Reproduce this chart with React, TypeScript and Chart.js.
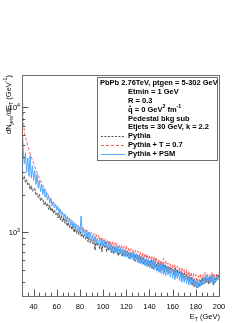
import React, { useEffect, useRef } from "react";
import { Chart, registerables } from "chart.js";

Chart.register(...registerables);

// ---- data (1 GeV bins, E_T = 30 ... 200 GeV) ----
const E_START = 30;
const pythia = [
  2950, 2650, 2780, 2500, 2620, 2380, 2450, 2200, 2350, 2120,
  2180, 2250, 1980, 2050, 1900, 2000, 1780, 1870, 1820, 1660,
  1750, 1620, 1700, 1520, 1640, 1480, 1560, 1420, 1510, 1380,
  1440, 1300, 1420, 1260, 1350, 1210, 1310, 1180, 1260, 1120,
  1200, 1090, 1180, 1050, 1140, 1000, 1110, 980, 1060, 960,
  1040, 930, 1010, 900, 980, 880, 950, 840, 930, 820,
  900, 810, 870, 720, 860, 780, 840, 740, 820, 700,
  810, 760, 830, 700, 790, 720, 780, 690, 770, 670,
  760, 690, 740, 650, 730, 680, 720, 640, 700, 650,
  710, 640, 690, 620, 680, 630, 670, 590, 660, 610,
  650, 580, 640, 570, 630, 560, 610, 550, 600, 540,
  590, 530, 600, 510, 580, 520, 560, 500, 570, 490,
  560, 500, 550, 480, 540, 490, 530, 470, 520, 480,
  510, 460, 520, 450, 500, 460, 490, 440, 480, 430,
  470, 420, 460, 410, 450, 400, 440, 380, 420, 370,
  410, 360, 400, 370, 420, 380, 430, 390, 440, 400,
  430, 390, 440, 400, 450, 380, 430, 400, 460, 420,
  470,
];
const pythiaT07 = [
  15500, 8200, 6400, 5700, 5300, 4900, 4600, 4250, 4000, 3750,
  3550, 3350, 3150, 3000, 2850, 2700, 2580, 2470, 2350, 2260,
  2180, 2100, 2020, 1960, 1890, 1830, 1780, 1730, 1680, 1640,
  1600, 1540, 1550, 1470, 1480, 1400, 1420, 1350, 1360, 1300,
  1310, 1240, 1270, 1190, 1230, 1160, 1200, 1120, 1150, 1090,
  1120, 1050, 1100, 1010, 1070, 990, 1040, 960, 1020, 940,
  1000, 920, 980, 890, 960, 870, 940, 860, 920, 840,
  900, 820, 890, 800, 870, 790, 860, 770, 840, 760,
  830, 740, 820, 730, 800, 720, 790, 700, 770, 690,
  780, 680, 760, 670, 740, 660, 730, 640, 720, 630,
  710, 620, 700, 610, 690, 600, 680, 590, 670, 580,
  660, 570, 650, 560, 640, 550, 620, 540, 610, 530,
  600, 520, 620, 510, 590, 500, 570, 490, 560, 480,
  560, 470, 550, 480, 540, 460, 530, 450, 520, 440,
  510, 440, 500, 430, 490, 420, 480, 410, 470, 420,
  460, 400, 450, 410, 470, 400, 460, 420, 480, 410,
  470, 400, 460, 420, 480, 410, 470, 420, 460, 430,
  480,
];
const pythiaPSM = [
  8500, 4600, 3500, 4300, 3000, 3900, 2800, 4100, 2700, 3400,
  2600, 3100, 2400, 2900, 2250, 2600, 2100, 2400, 2000, 2250,
  1900, 2100, 1800, 1950, 1700, 1850, 1620, 1750, 1560, 1680,
  1500, 1600, 1430, 1520, 1360, 1450, 1300, 1400, 1250, 1340,
  1200, 1290, 1150, 1240, 1100, 1190, 1060, 1150, 1020, 1110,
  1000, 1350, 990, 1080, 940, 1040, 910, 1010, 880, 980,
  860, 950, 840, 930, 820, 900, 800, 890, 780, 870,
  770, 860, 750, 840, 740, 820, 720, 810, 700, 790,
  690, 780, 680, 770, 660, 750, 650, 740, 640, 720,
  630, 710, 620, 700, 610, 690, 600, 680, 580, 670,
  570, 660, 560, 650, 550, 640, 540, 620, 530, 610,
  520, 600, 510, 590, 500, 620, 490, 580, 480, 570,
  470, 560, 460, 550, 450, 540, 460, 530, 440, 520,
  430, 510, 420, 500, 430, 490, 410, 480, 400, 470,
  400, 460, 390, 450, 380, 440, 380, 430, 370, 420,
  370, 410, 360, 420, 370, 430, 380, 440, 390, 450,
  400, 440, 390, 450, 400, 460, 390, 440, 410, 450,
  430,
];

const X_MIN = 30;
const X_MAX = 200;
const Y_MIN = 311;
const Y_MAX = 17900;
const xMajorTicks = [40, 60, 80, 100, 120, 140, 160, 180, 200];
const xMinorStep = 5;
const yDecades = [1000, 10000];
const yDecadeLabels = [["10", "3"], ["10", "4"]];

const legendHeader = [
  "PbPb 2.76TeV, ptgen = 5-302 GeV",
  "Etmin = 1 GeV",
  "R = 0.3",
  "q̂ = 0 GeV|2| fm|-1|",
  "Pedestal bkg sub",
  "Etjets = 30 GeV, k = 2.2",
];
const seriesNames = ["Pythia", "Pythia + T = 0.7", "Pythia + PSM"];

const COLORS = {
  pythia: "#505050",
  t07: "#ff5a5a",
  psm: "#4fa8ff",
  frame: "#6f6f6f",
};

const FONT = "'Liberation Sans', Arial, Helvetica, sans-serif";

type Part = { t: string; k: "n" | "sup" | "sub" };

function parseRich(s: string): Part[] {
  const out: Part[] = [];
  const bits = s.split("|");
  bits.forEach((b, i) => {
    if (b) out.push({ t: b, k: i % 2 === 1 ? "sup" : "n" });
  });
  return out;
}

function richWidth(ctx: CanvasRenderingContext2D, parts: Part[], size: number, weight = "") {
  let w = 0;
  for (const p of parts) {
    const s = p.k === "n" ? size : size * 0.7;
    ctx.font = `${weight} ${s}px ${FONT}`;
    w += ctx.measureText(p.t).width;
  }
  return w;
}

function drawRich(ctx: CanvasRenderingContext2D, parts: Part[], x: number, y: number, size: number, weight = "") {
  let cx = x;
  ctx.textAlign = "left";
  ctx.textBaseline = "alphabetic";
  for (const p of parts) {
    const s = p.k === "n" ? size : size * 0.7;
    ctx.font = `${weight} ${s}px ${FONT}`;
    const dy = p.k === "sup" ? -size * 0.42 : p.k === "sub" ? size * 0.28 : 0;
    ctx.fillText(p.t, cx, y + dy);
    cx += ctx.measureText(p.t).width;
  }
}

const decorPlugin = {
  id: "rootDecor",
  afterDatasetsDraw(chart: any) {
    const { ctx, chartArea, scales } = chart;
    const xs = scales.x;
    const ys = scales.y;
    const { left, right, top, bottom } = chartArea;
    ctx.save();

    ctx.strokeStyle = COLORS.frame;
    ctx.lineWidth = 1;
    ctx.setLineDash([]);
    ctx.strokeRect(Math.round(left) + 0.5, Math.round(top) + 0.5, Math.round(right - left), Math.round(bottom - top));

    ctx.beginPath();
    for (let v = X_MIN; v <= X_MAX; v += xMinorStep) {
      const px = Math.round(xs.getPixelForValue(v)) + 0.5;
      const major = v % 20 === 0;
      const len = major ? 6.5 : 3.3;
      ctx.moveTo(px, bottom);
      ctx.lineTo(px, bottom - len);
    }
    for (let d = 100; d <= 10000; d *= 10) {
      for (let m = 1; m <= 9; m++) {
        const v = d * m;
        if (v < Y_MIN || v > Y_MAX) continue;
        const py = Math.round(ys.getPixelForValue(v)) + 0.5;
        const len = m === 1 ? 6.5 : 3.3;
        ctx.moveTo(left, py);
        ctx.lineTo(left + len, py);
      }
    }
    ctx.strokeStyle = "#555";
    ctx.stroke();

    ctx.fillStyle = "#000";
    ctx.font = `7.5px ${FONT}`;
    ctx.textAlign = "center";
    ctx.textBaseline = "alphabetic";
    for (const v of xMajorTicks) {
      ctx.fillText(String(v), xs.getPixelForValue(v), bottom + 13);
    }
    yDecades.forEach((v, i) => {
      const py = ys.getPixelForValue(v);
      const parts: Part[] = [
        { t: yDecadeLabels[i][0], k: "n" },
        { t: yDecadeLabels[i][1], k: "sup" },
      ];
      const w = richWidth(ctx, parts, 7.5);
      drawRich(ctx, parts, left - 2 - w, py + 3, 7.5);
    });

    {
      const parts: Part[] = [
        { t: "E", k: "n" },
        { t: "T", k: "sub" },
        { t: " (GeV)", k: "n" },
      ];
      const w = richWidth(ctx, parts, 7.5);
      drawRich(ctx, parts, right + 1 - w, bottom + 23, 7.5);
    }
    {
      const parts: Part[] = [
        { t: "dN", k: "n" },
        { t: "jets", k: "sub" },
        { t: "/dE", k: "n" },
        { t: "T", k: "sub" },
        { t: " (GeV", k: "n" },
        { t: "-1", k: "sup" },
        { t: ")", k: "n" },
      ];
      const w = richWidth(ctx, parts, 7.5);
      ctx.save();
      ctx.translate(10.5, top);
      ctx.rotate(-Math.PI / 2);
      drawRich(ctx, parts, -w, 0, 7.5);
      ctx.restore();
    }

    const bx = 97.5, by = 77.5, bw = 120, bh = 83;
    ctx.fillStyle = "#fff";
    ctx.fillRect(bx, by, bw, bh);
    ctx.strokeStyle = COLORS.frame;
    ctx.lineWidth = 1;
    ctx.strokeRect(bx, by, bw, bh);

    ctx.fillStyle = "#000";
    const lineY = (i: number) => 82 + i * 8.95;
    const fs = 7.5;
    legendHeader.forEach((s, i) => {
      const x = i === 0 ? 100 : 128;
      drawRich(ctx, parseRich(s), x, lineY(i) + 2.7, fs, "bold");
    });
    const styles = [
      { c: COLORS.pythia, d: [2, 1.5] },
      { c: COLORS.t07, d: [3, 2] },
      { c: COLORS.psm, d: [] as number[] },
    ];
    seriesNames.forEach((s, j) => {
      const i = legendHeader.length + j;
      const y = Math.round(lineY(i)) + 0.5;
      ctx.beginPath();
      ctx.setLineDash(styles[j].d);
      ctx.strokeStyle = styles[j].c;
      ctx.lineWidth = 1;
      ctx.moveTo(101, y);
      ctx.lineTo(125, y);
      ctx.stroke();
      ctx.setLineDash([]);
      ctx.fillStyle = "#000";
      drawRich(ctx, [{ t: s, k: "n" }], 128, lineY(i) + 2.7, fs, "bold");
    });

    ctx.restore();
  },
};

function toPoints(vals: number[]) {
  return vals.map((v, i) => ({ x: E_START + i, y: v }));
}

export default function App() {
  const ref = useRef<HTMLCanvasElement | null>(null);
  useEffect(() => {
    if (!ref.current) return;
    const chart = new Chart(ref.current, {
      type: "line",
      data: {
        datasets: [
          {
            label: seriesNames[0],
            data: toPoints(pythia),
            borderColor: COLORS.pythia,
            borderWidth: 1,
            borderDash: [3, 1],
            pointRadius: 0,
            tension: 0,
            order: 1,
          },
          {
            label: seriesNames[1],
            data: toPoints(pythiaT07),
            borderColor: COLORS.t07,
            borderWidth: 1,
            borderDash: [3, 2],
            pointRadius: 0,
            tension: 0,
            order: 2,
          },
          {
            label: seriesNames[2],
            data: toPoints(pythiaPSM),
            borderColor: COLORS.psm,
            borderWidth: 1,
            pointRadius: 0,
            tension: 0,
            order: 0,
          },
        ],
      },
      options: {
        animation: false,
        responsive: false,
        maintainAspectRatio: false,
        devicePixelRatio: 1,
        layout: { padding: { left: 22, top: 75, right: 30, bottom: 27 } },
        plugins: { legend: { display: false }, tooltip: { enabled: false } },
        scales: {
          x: { type: "linear", min: X_MIN, max: X_MAX, display: false },
          y: { type: "logarithmic", min: Y_MIN, max: Y_MAX, display: false },
        },
      },
      plugins: [decorPlugin],
    });
    return () => chart.destroy();
  }, []);
  return (
    <div style={{ position: "fixed", left: 0, top: 0, width: 249, height: 323, background: "#fff" }}>
      <canvas ref={ref} width={249} height={323} style={{ width: 249, height: 323, display: "block" }} />
    </div>
  );
}
